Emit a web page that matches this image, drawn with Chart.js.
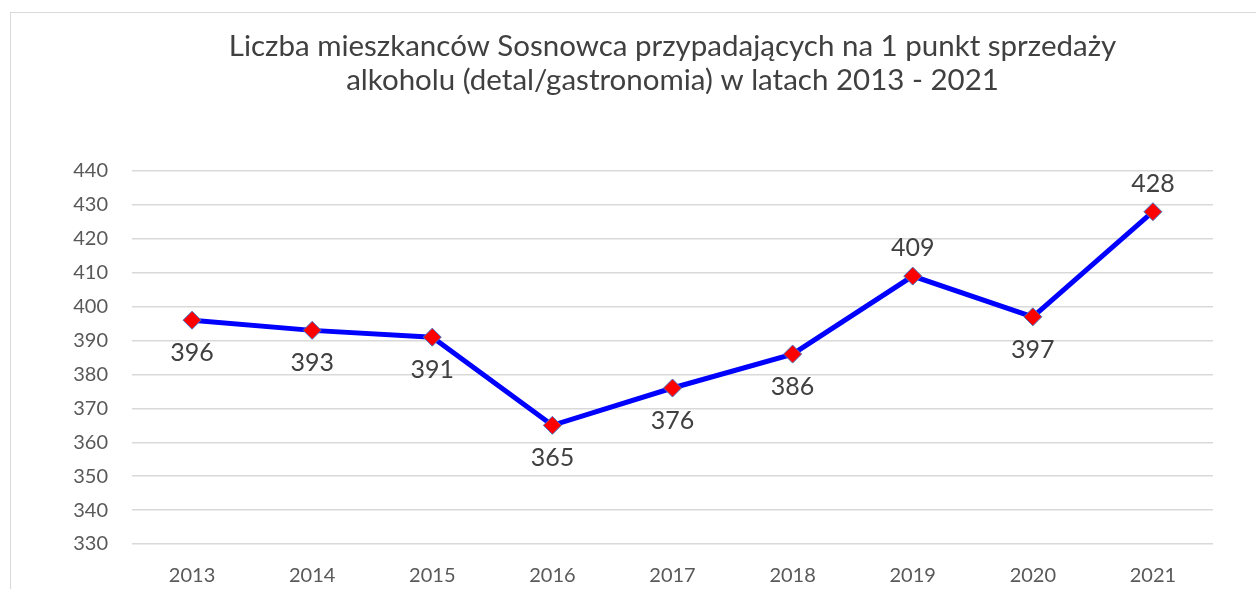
<!DOCTYPE html>
<html>
<head>
<meta charset="utf-8">
<script src="https://cdn.jsdelivr.net/npm/chart.js@4"></script>
<style>
  html, body { margin: 0; padding: 0; background: #fff; overflow: hidden; }
  #frame {
    position: absolute; left: 10px; top: 12px; width: 1400px; height: 700px;
    border: 1.5px solid #d9d9d9; box-sizing: border-box;
  }
  #myChart { position: absolute; left: 0; top: 0; }
</style>
</head>
<body>
<div id="frame"></div>
<canvas id="myChart" width="1256" height="589"></canvas>
<script>
const ctx = document.getElementById('myChart').getContext('2d');

// Data
const years = ['2013', '2014', '2015', '2016', '2017', '2018', '2019', '2020', '2021'];
const residentsPerOutlet = [396, 393, 391, 365, 376, 386, 409, 397, 428];

const titleLines = [
  'Liczba mieszkanców Sosnowca przypadających na 1 punkt sprzedaży',
  'alkoholu (detal/gastronomia) w latach 2013 - 2021'
];

// label placement: 1 = above point, -1 = below point
const labelSide = [-1, -1, -1, -1, -1, -1, 1, -1, 1];

const FONT = 'Lato, "Open Sans", sans-serif';

// draws the value labels next to each point
const valueLabels = {
  id: 'valueLabels',
  afterDatasetsDraw(chart) {
    const c = chart.ctx;
    const meta = chart.getDatasetMeta(0);
    c.save();
    c.font = '25px ' + FONT;
    c.fillStyle = '#404040';
    c.textAlign = 'center';
    c.textBaseline = 'middle';
    meta.data.forEach((pt, i) => {
      const dy = labelSide[i] > 0 ? -28 : 33;
      c.fillText(String(residentsPerOutlet[i]), pt.x, pt.y + dy);
    });
    c.restore();
  }
};

const myLineChart = new Chart(ctx, {
  type: 'line',
  data: {
    labels: years,
    datasets: [{
      data: residentsPerOutlet,
      borderColor: '#0000ff',
      borderWidth: 5,
      backgroundColor: 'transparent',
      pointStyle: 'rectRot',
      pointRadius: 9,
      pointHoverRadius: 9,
      pointBackgroundColor: '#ff0000',
      pointBorderColor: '#4472c4',
      pointBorderWidth: 1,
      tension: 0
    }]
  },
  options: {
    responsive: false,
    animation: false,
    layout: {
      padding: { left: 0, right: 43, top: 0, bottom: 0 }
    },
    plugins: {
      legend: { display: false },
      tooltip: { enabled: false },
      title: {
        display: true,
        fullSize: false,
        text: titleLines,
        color: '#404040',
        font: { family: FONT, size: 29.5, weight: 'normal', lineHeight: '34px' },
        padding: { top: 29, bottom: 74 }
      }
    },
    scales: {
      x: {
        offset: true,
        grid: { display: false },
        border: { display: false },
        ticks: {
          color: '#595959',
          padding: 12,
          font: { family: FONT, size: 20 }
        },
        afterFit(scale) { scale.height = 45; }
      },
      y: {
        min: 330,
        max: 440,
        grid: { color: '#d9d9d9', lineWidth: 1.5, drawTicks: false },
        border: { display: false },
        ticks: {
          stepSize: 10,
          color: '#595959',
          padding: 24,
          font: { family: FONT, size: 20 }
        },
        afterFit(scale) { scale.width = 132; }
      }
    }
  },
  plugins: [valueLabels]
});
</script>
</body>
</html>
